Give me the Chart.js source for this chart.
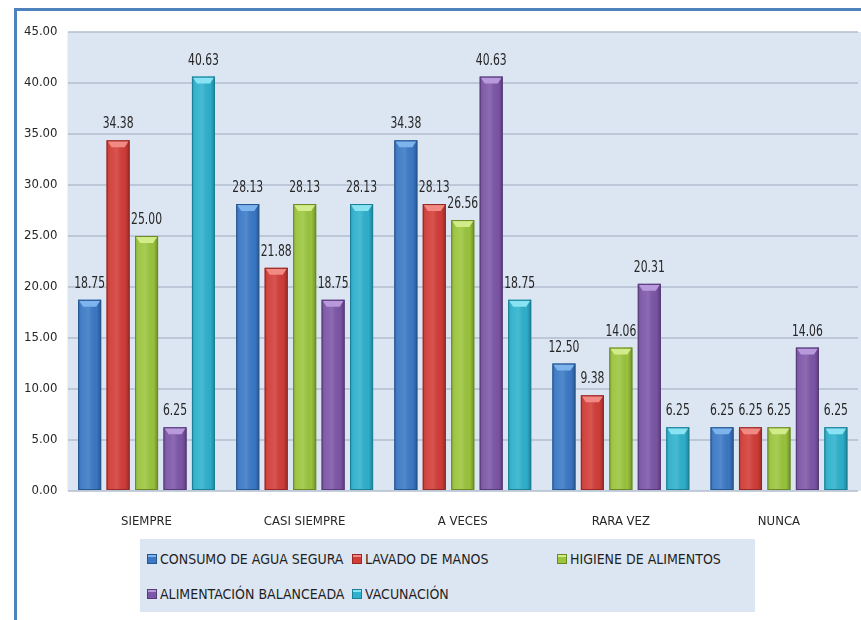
<!DOCTYPE html>
<html>
<head>
<meta charset="utf-8">
<script src="https://cdn.jsdelivr.net/npm/chart.js@4.4.1/dist/chart.umd.min.js"></script>
<style>
  body { margin: 0; background: #fff; }
  #wrap { position: relative; width: 861px; height: 620px; overflow: hidden; }
  #legend {
    position: absolute; left: 140px; top: 539px; width: 615px; height: 73px;
    box-sizing: border-box; padding: 2px 0 0 7px; background: #dce6f2;
    display: grid; grid-template-columns: 205px 205px 205px; grid-auto-rows: 35px;
    font-family: "Liberation Sans Narrow", "DejaVu Sans Condensed", "Roboto", sans-serif;
    font-size: 14px; color: #1f1f1f;
  }
  .item { display: flex; align-items: center; white-space: nowrap; }
  .mark { flex: 0 0 auto; width: 8px; height: 8px; margin-right: 3px; border: 1px solid; }
</style>
</head>
<body>
<div id="wrap">
  <canvas id="chart" width="861" height="620"></canvas>
  <div id="legend"></div>
</div>
<script>
// Categorías y series
const categories = ['SIEMPRE', 'CASI SIEMPRE', 'A VECES', 'RARA VEZ', 'NUNCA'];
const seriesNames = ['CONSUMO DE AGUA SEGURA', 'LAVADO DE MANOS', 'HIGIENE DE ALIMENTOS',
                     'ALIMENTACIÓN BALANCEADA', 'VACUNACIÓN'];
const aguaSegura   = [18.75, 28.13, 34.38, 12.50, 6.25];
const lavadoManos  = [34.38, 21.88, 28.13, 9.38, 6.25];
const higiene      = [25.00, 28.13, 26.56, 14.06, 6.25];
const alimentacion = [6.25, 18.75, 40.63, 20.31, 14.06];
const vacunacion   = [40.63, 28.13, 18.75, 6.25, 6.25];
const yTicks = [0, 5, 10, 15, 20, 25, 30, 35, 40, 45];

const seriesValues = [aguaSegura, lavadoManos, higiene, alimentacion, vacunacion];
// base, borde oscuro, reflejo claro
const palette = [
  ['#3b79c6', '#25558f', '#7db4ee'],
  ['#d23d38', '#952824', '#f28a84'],
  ['#9bc53d', '#6b8a25', '#d2ec8a'],
  ['#7d56a8', '#553a77', '#b899dc'],
  ['#2eb1cd', '#1b7f96', '#8ae3f3']
];

const FONT = '"Liberation Sans Narrow", "DejaVu Sans Condensed", "Roboto", sans-serif';
Chart.defaults.font.family = FONT;
Chart.defaults.color = '#262626';

// Fondo, marco azul y área del gráfico
const backgroundPlugin = {
  id: 'fondo',
  beforeDraw(chart) {
    const { ctx, chartArea: a, width, height } = chart;
    ctx.save();
    ctx.fillStyle = '#fff';
    ctx.fillRect(0, 0, width, height);
    ctx.fillStyle = '#dce6f2';
    ctx.fillRect(a.left, a.top, width - a.left, a.bottom - a.top);
    ctx.fillStyle = '#4f81bd';
    ctx.fillRect(14, 8, 3, height);
    ctx.fillRect(14, 8, width, 3);
    ctx.restore();
  }
};

// Relieve de las barras + etiquetas de valor
const bevelPlugin = {
  id: 'relieve',
  afterDatasetsDraw(chart) {
    const ctx = chart.ctx;
    chart.data.datasets.forEach((ds, i) => {
      const [, dark, light] = palette[i];
      chart.getDatasetMeta(i).data.forEach((bar, j) => {
        const { x, y, width, base } = bar.getProps(['x', 'y', 'width', 'base'], true);
        const l = x - width / 2, r = x + width / 2;
        ctx.save();
        const g = ctx.createLinearGradient(l, 0, r, 0);
        g.addColorStop(0, 'rgba(0,0,0,0.15)');
        g.addColorStop(0.18, 'rgba(255,255,255,0.05)');
        g.addColorStop(0.45, 'rgba(255,255,255,0.12)');
        g.addColorStop(0.8, 'rgba(0,0,0,0.02)');
        g.addColorStop(1, 'rgba(0,0,0,0.28)');
        ctx.fillStyle = g;
        ctx.fillRect(l, y, width, base - y);
        // tapa superior
        const h = Math.min(7, (base - y) / 2);
        ctx.fillStyle = light;
        ctx.beginPath();
        ctx.moveTo(l + 1, y + 1);
        ctx.lineTo(r - 1, y + 1);
        ctx.lineTo(r - 5, y + h);
        ctx.lineTo(l + 5, y + h);
        ctx.closePath();
        ctx.fill();
        ctx.strokeStyle = dark;
        ctx.lineWidth = 1;
        ctx.strokeRect(l + 0.5, y + 0.5, width - 1, base - y - 1);
        ctx.restore();

        // texto algo estrecho para que no se monten las etiquetas
        ctx.save();
        ctx.translate(x, y - 12);
        ctx.scale(0.8, 1);
        ctx.font = '15px ' + FONT;
        ctx.fillStyle = '#262626';
        ctx.textAlign = 'center';
        ctx.textBaseline = 'alphabetic';
        ctx.fillText(ds.data[j].toFixed(2), 0, 0);
        ctx.restore();
      });
    });
  }
};

const chart = new Chart(document.getElementById('chart'), {
  type: 'bar',
  data: {
    labels: categories,
    datasets: seriesNames.map((name, i) => ({
      label: name,
      data: seriesValues[i],
      backgroundColor: palette[i][0],
      borderWidth: 0,
      barPercentage: 0.81,
      categoryPercentage: 0.9
    }))
  },
  options: {
    responsive: false,
    animation: false,
    layout: { padding: { top: 32, right: 3, bottom: 84, left: 0 } },
    plugins: { legend: { display: false }, tooltip: { enabled: false } },
    scales: {
      x: {
        grid: { display: false },
        border: { display: false },
        ticks: { padding: 15, font: { size: 13 }, color: '#262626' },
        afterFit: s => { s.height = 45; }
      },
      y: {
        min: 0, max: 45,
        afterBuildTicks: s => { s.ticks = yTicks.map(v => ({ value: v })); },
        grid: { color: 'rgba(178,189,205,0.75)', lineWidth: 2, drawTicks: false },
        border: { display: false },
        ticks: { padding: 10, font: { size: 13 }, color: '#262626', callback: v => v.toFixed(2) },
        afterFit: s => { s.width = 67.5; }
      }
    }
  },
  plugins: [backgroundPlugin, bevelPlugin]
});

// Leyenda
const legend = document.getElementById('legend');
seriesNames.forEach((name, i) => {
  const item = document.createElement('div');
  item.className = 'item';
  const mark = document.createElement('span');
  mark.className = 'mark';
  mark.style.background = `linear-gradient(${palette[i][2]} 0 30%, ${palette[i][0]} 30%)`;
  mark.style.borderColor = palette[i][1];
  item.appendChild(mark);
  item.appendChild(document.createTextNode(name));
  legend.appendChild(item);
});
</script>
</body>
</html>
